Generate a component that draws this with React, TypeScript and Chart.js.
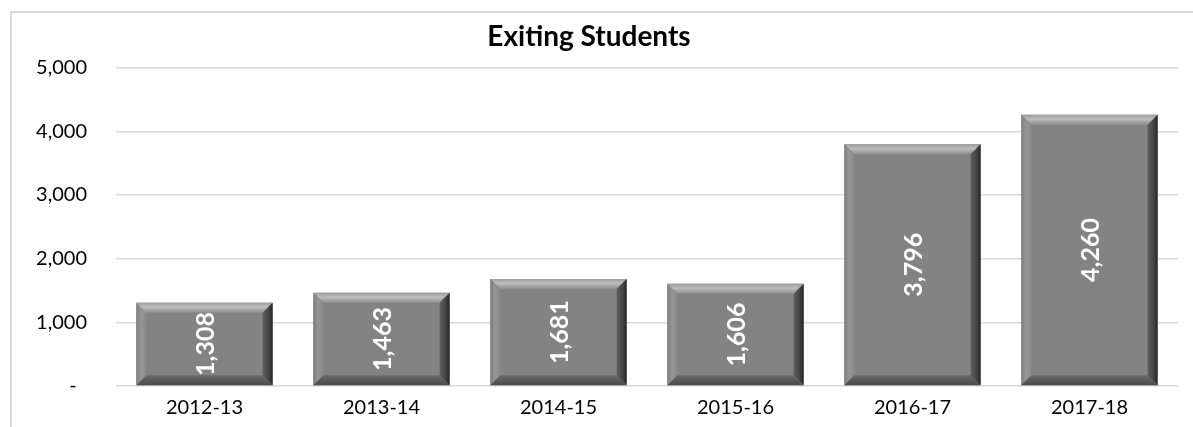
import React, { useEffect, useRef } from "react";
import { Chart, registerables } from "chart.js";

Chart.register(...registerables);

const categories: string[] = ["2012-13", "2013-14", "2014-15", "2015-16", "2016-17", "2017-18"];
const values: number[] = [1308, 1463, 1681, 1606, 3796, 4260];
const titleText = "Exiting Students";
const yMax = 5000;
const yStep = 1000;

const FONT = "Lato, 'Open Sans', sans-serif";

function poly(ctx: CanvasRenderingContext2D, pts: number[][], fill: string | CanvasGradient) {
  ctx.beginPath();
  ctx.moveTo(pts[0][0], pts[0][1]);
  for (let i = 1; i < pts.length; i++) ctx.lineTo(pts[i][0], pts[i][1]);
  ctx.closePath();
  ctx.fillStyle = fill;
  ctx.fill();
}

const borderPlugin = {
  id: "frameBorder",
  beforeDraw(chart: any) {
    const ctx = chart.ctx as CanvasRenderingContext2D;
    ctx.save();
    ctx.fillStyle = "#ffffff";
    ctx.fillRect(0, 0, chart.width, chart.height);
    ctx.strokeStyle = "#d9d9d9";
    ctx.lineWidth = 2;
    ctx.strokeRect(11, 12, chart.width + 100, chart.height + 100);
    ctx.restore();
  },
};

const bevelPlugin = {
  id: "bevelBars",
  afterDatasetsDraw(chart: any) {
    const ctx = chart.ctx as CanvasRenderingContext2D;
    const meta = chart.getDatasetMeta(0);
    ctx.save();
    meta.data.forEach((bar: any, i: number) => {
      const { x, y, base, width } = bar.getProps(["x", "y", "base", "width"], true);
      const l = x - width / 2;
      const r = x + width / 2;
      const t = y;
      const bt = base;
      const b = 10;
      // top bevel
      let g = ctx.createLinearGradient(0, t, 0, t + b);
      g.addColorStop(0, "#9e9e9e");
      g.addColorStop(0.45, "#bcbcbc");
      g.addColorStop(1, "#8e8e8e");
      poly(ctx, [[l, t], [r, t], [r - b, t + b], [l + b, t + b]], g);
      // left bevel
      g = ctx.createLinearGradient(l, 0, l + b, 0);
      g.addColorStop(0, "#7e7e7e");
      g.addColorStop(0.5, "#969696");
      g.addColorStop(1, "#888888");
      poly(ctx, [[l, t], [l + b, t + b], [l + b, bt - b], [l, bt]], g);
      // right bevel
      g = ctx.createLinearGradient(r - b, 0, r, 0);
      g.addColorStop(0, "#5e5e5e");
      g.addColorStop(0.6, "#444444");
      g.addColorStop(1, "#262626");
      poly(ctx, [[r, t], [r, bt], [r - b, bt - b], [r - b, t + b]], g);
      // bottom bevel
      g = ctx.createLinearGradient(0, bt - b, 0, bt);
      g.addColorStop(0, "#6a6a6a");
      g.addColorStop(1, "#4a4a4a");
      poly(ctx, [[l, bt], [r, bt], [r - b, bt - b], [l + b, bt - b]], g);

      // value label
      const v = values[i];
      ctx.save();
      ctx.translate(x, (t + bt) / 2);
      ctx.rotate(-Math.PI / 2);
      ctx.fillStyle = "#ffffff";
      ctx.font = `bold 25px ${FONT}`;
      ctx.textAlign = "center";
      ctx.textBaseline = "middle";
      ctx.fillText(v.toLocaleString("en-US"), 0, 1);
      ctx.restore();
    });
    ctx.restore();
  },
};

export default function App() {
  const ref = useRef<HTMLCanvasElement | null>(null);

  useEffect(() => {
    if (!ref.current) return;
    const chart = new Chart(ref.current, {
      type: "bar",
      data: {
        labels: categories,
        datasets: [
          {
            data: values,
            backgroundColor: "#838383",
            borderWidth: 0,
            categoryPercentage: 1,
            barPercentage: 0.77,
          },
        ],
      },
      options: {
        responsive: true,
        maintainAspectRatio: false,
        animation: false,
        layout: { padding: { left: 0, right: 15, top: 0, bottom: 0 } },
        plugins: {
          legend: { display: false },
          tooltip: { enabled: false },
          title: {
            display: true,
            text: titleText,
            color: "#000000",
            font: { family: FONT, size: 28, weight: "bold" },
            padding: { top: 20, bottom: 14 },
          },
        },
        scales: {
          x: {
            grid: { display: false, drawTicks: false },
            border: { display: false },
            ticks: {
              color: "#000000",
              font: { family: FONT, size: 20 },
              padding: 10,
            },
            afterFit: (s: any) => {
              s.height = 41;
            },
          },
          y: {
            min: 0,
            max: yMax,
            grid: { color: "#d9d9d9", lineWidth: 1.5, drawTicks: false },
            border: { display: false },
            ticks: {
              stepSize: yStep,
              color: "#000000",
              font: { family: FONT, size: 20 },
              padding: 29,
              callback: (v: any) => (Number(v) === 0 ? "-  " : Number(v).toLocaleString("en-US")),
            },
            afterFit: (s: any) => {
              s.width = 116;
            },
          },
        },
      },
      plugins: [borderPlugin, bevelPlugin],
    });
    return () => chart.destroy();
  }, []);

  return (
    <div style={{ position: "fixed", left: 0, top: 0, width: 1193, height: 427 }}>
      <canvas ref={ref} />
    </div>
  );
}
